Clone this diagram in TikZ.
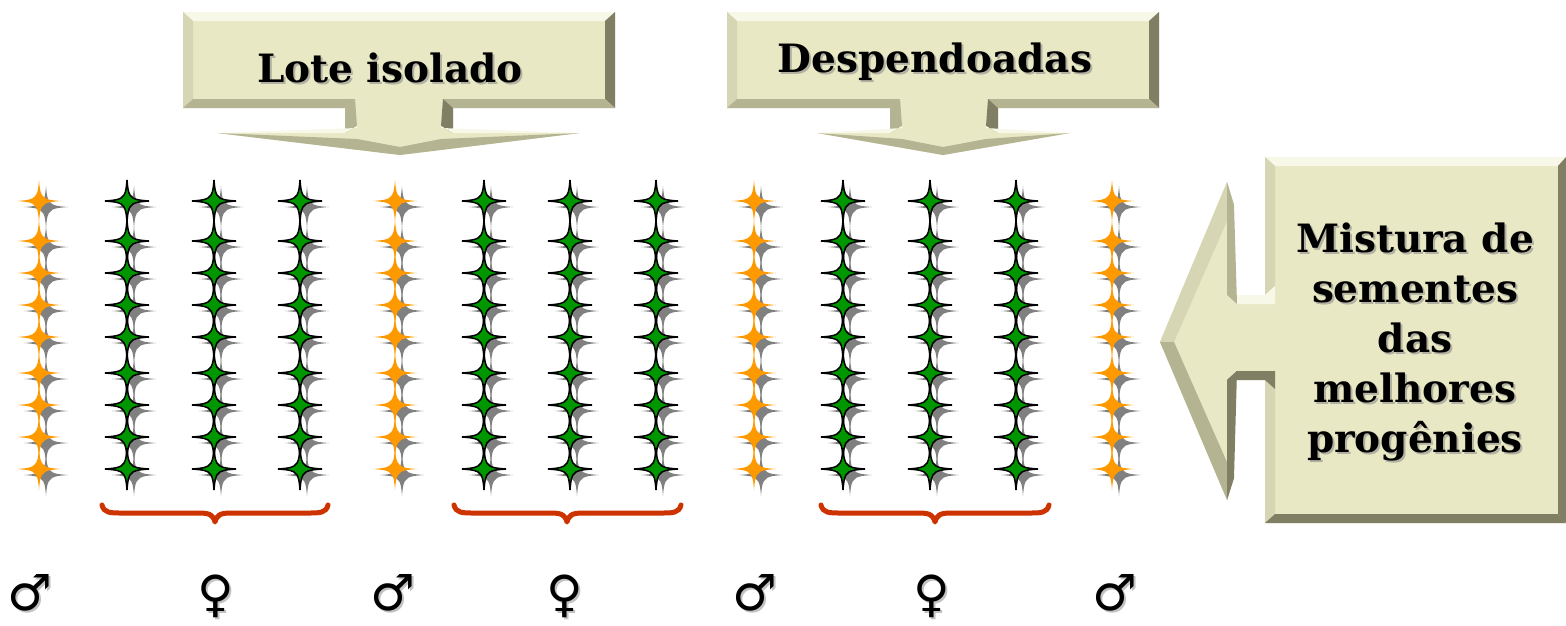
\documentclass[tikz,border=0pt]{standalone}
\usepackage{fontspec}
\setmainfont{DejaVu Serif}
\newfontfamily\symfont{DejaVu Sans}
\definecolor{face}{RGB}{233,232,196}
\definecolor{lite}{RGB}{248,248,232}
\definecolor{midl}{RGB}{214,213,180}
\definecolor{midd}{RGB}{180,179,146}
\definecolor{dark}{RGB}{128,127,100}
\definecolor{starorange}{RGB}{255,153,0}
\definecolor{stargreen}{RGB}{0,150,0}
\definecolor{bracecol}{RGB}{204,51,0}
\definecolor{shade}{RGB}{128,128,128}
\tikzset{
  pics/fstar/.style={code={\path[#1] (0,-21) .. controls (0.8,-10) and (2,-6) .. (4.5,-4.5) .. controls (6,-2) and (10,-0.8) .. (22,0) .. controls (10,0.8) and (6,2) .. (4.5,4.5) .. controls (2,6) and (0.8,10) .. (0,21) .. controls (-0.8,10) and (-2,6) .. (-4.5,4.5) .. controls (-6,2) and (-10,0.8) .. (-22,0) .. controls (-10,-0.8) and (-6,-2) .. (-4.5,-4.5) .. controls (-2,-6) and (-0.8,-10) .. cycle;}},
  shadowstar/.style={fill=shade},
  orangestar/.style={fill=starorange},
  greenstar/.style={fill=stargreen,draw=black,line width=1.5pt,line join=miter},
  bracestyle/.style={draw=bracecol,line width=5pt,line cap=round,line join=round},
  lbl/.style={font=\bfseries\fontsize{39}{46}\selectfont,inner sep=0pt,anchor=base},
  lblshadow/.style={lbl,text=black!45,opacity=0.6},
  mlbl/.style={font=\bfseries\fontsize{39}{50}\selectfont,inner sep=0pt,align=center},
  sym/.style={font=\symfont\fontsize{50}{52}\selectfont,inner sep=0pt},
  symshadow/.style={sym,text=black!40,opacity=0.6},
}
\newcommand\downcallout[7]{%
  % #1 x1, #2 x2, #3 stem left, #4 stem right, #5 head left, #6 head right, #7 tip x
  \fill[face] (#1,12) -- (#2,12) -- (#2,108) -- (#4,108) -- (#4,133) -- (#6,133) -- (#7,155) -- (#5,133) -- (#3,133) -- (#3,108) -- (#1,108) -- cycle;
  \fill[lite] (#1,12) -- (#2,12) -- ({#2-10},21) -- ({#1+10},21) -- cycle;
  \fill[midl] (#1,12) -- ({#1+10},21) -- ({#1+10},99) -- (#1,108) -- cycle;
  \fill[dark] (#2,12) -- ({#2-10},21) -- ({#2-10},99) -- (#2,108) -- cycle;
  \fill[midd] (#1,108) -- ({#1+10},99) -- ({#3+10},99) -- (#3,108) -- cycle;
  \fill[midd] (#2,108) -- ({#2-10},99) -- ({#4-10},99) -- (#4,108) -- cycle;
  \fill[midd] (#3,108) -- ({#3+10},99) -- ({#3+12},126) -- (#3,133) -- cycle;
  \fill[dark] (#4,108) -- ({#4-10},99) -- ({#4-12},126) -- (#4,133) -- cycle;
  \fill[midd] (#5,133) -- (#7,155) -- (#6,133) -- ({#4-12},139) -- (#7,147) -- ({#3+12},139) -- cycle;
  \fill[lite] (#5,133) -- (#3,133) -- ({#3+12},126) -- ({#3+12},128) -- cycle;
  \fill[lite] (#6,133) -- (#4,133) -- ({#4-12},126) -- ({#4-12},128) -- cycle;
}
\begin{document}
\begin{tikzpicture}[x=1pt,y=-1pt]
\useasboundingbox (0,0) rectangle (1566,625);
% ---- callouts ----
\downcallout{183}{615}{345}{453}{217}{580}{400}
\downcallout{727}{1159}{890}{998}{817}{1070}{943}
% right callout
\fill[face] (1265,157) -- (1566,157) -- (1566,523) -- (1265,523) -- (1265,380) -- (1227,380) -- (1227,500) -- (1160,342) -- (1227,182) -- (1227,295) -- (1265,295) -- cycle;
\fill[lite] (1265,157) -- (1566,157) -- (1558,166) -- (1275,166) -- cycle;
\fill[midl] (1265,157) -- (1275,166) -- (1275,286) -- (1265,295) -- cycle;
\fill[midl] (1265,380) -- (1275,389) -- (1275,514) -- (1265,523) -- cycle;
\fill[dark] (1265,523) -- (1275,514) -- (1558,514) -- (1566,523) -- cycle;
\fill[dark] (1566,157) -- (1558,166) -- (1558,514) -- (1566,523) -- cycle;
\fill[lite] (1227,295) -- (1265,295) -- (1275,286) -- (1275,304) -- (1237,304) -- cycle;
\fill[dark] (1227,380) -- (1265,380) -- (1275,389) -- (1275,371) -- (1237,371) -- cycle;
\fill[midl] (1227,182) -- (1160,342) -- (1174,342) -- (1234,205) -- cycle;
\fill[midd] (1160,342) -- (1227,500) -- (1234,478) -- (1174,342) -- cycle;
\fill[midd] (1227,182) -- (1234,205) -- (1237,304) -- (1227,295) -- cycle;
\fill[dark] (1227,380) -- (1237,371) -- (1234,478) -- (1227,500) -- cycle;
% ---- labels ----
\node[lblshadow] at (392,84) {Lote isolado};
\node[lbl] (lote) at (390,82) {Lote isolado};
\node[lblshadow] at (937,74) {Despendoadas};
\node[lbl] (desp) at (935,72) {Despendoadas};
\node[mlbl,text=black!45,opacity=0.6] at (1417,344) {Mistura de\\sementes\\das\\melhores\\progênies};
\node[mlbl] (mist) at (1415,342) {Mistura de\\sementes\\das\\melhores\\progênies};
% ---- stars ----
\foreach \x in {39,127,214,300,395,484,570,656,754,843,930,1016,1112}
  \foreach \y in {201,241,273,305,337,373,405,437,469}
    \pic at ({\x+7},{\y+6}) {fstar={shadowstar}};
\foreach \x in {39,395,754,1112}
  \foreach \y in {201,241,273,305,337,373,405,437,469}
    \pic at (\x,\y) {fstar={orangestar}};
\foreach \x in {127,214,300,484,570,656,843,930,1016}
  \foreach \y in {201,241,273,305,337,373,405,437,469}
    \pic at (\x,\y) {fstar={greenstar}};
% ---- braces ----
\foreach \a/\c/\b in {102/215/328, 454/567/681, 821/935/1049}
  \draw[bracestyle] (\a,505) .. controls ({\a+2},513) and ({\a+8},513) .. ({\a+20},513) -- ({\c-16},513) .. controls ({\c-5},513) and ({\c-2},515) .. (\c,522) .. controls ({\c+2},515) and ({\c+5},513) .. ({\c+16},513) -- ({\b-20},513) .. controls ({\b-8},513) and ({\b-2},513) .. (\b,505);
% ---- symbols ----
\foreach \x/\n in {30/m1,393/m2,755/m3,1115/m4}{
  \node[symshadow] at ({\x+2},{595}) {♂};
  \node[sym] (\n) at (\x,593) {♂};}
\foreach \x/\n in {216/f1,565/f2,932/f3}{
  \node[symshadow] at ({\x+2},{598}) {♀};
  \node[sym] (\n) at (\x,596) {♀};}
\end{tikzpicture}
\end{document}
